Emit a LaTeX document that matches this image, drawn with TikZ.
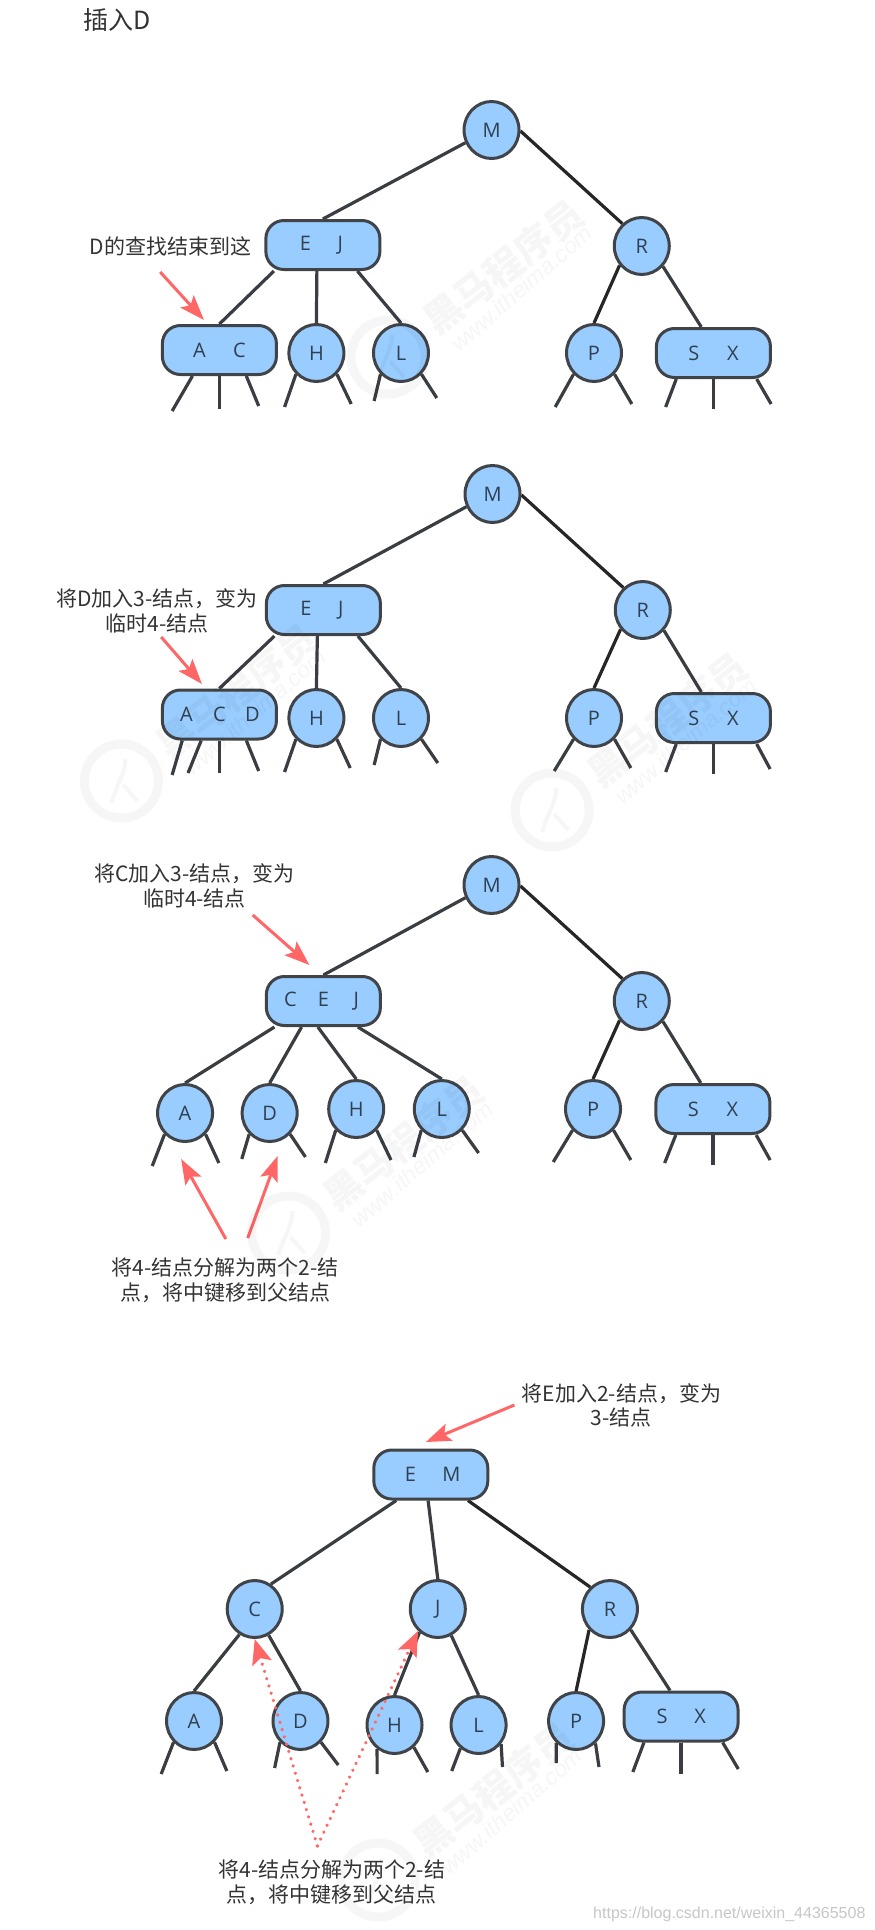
\documentclass[tikz,border=0pt]{standalone}
\usepackage{fontspec}
\setmainfont{Noto Sans CJK SC}
\newfontfamily\ltrfont{Open Sans}
\newfontfamily\urlfont{Liberation Sans}
\usetikzlibrary{shapes.geometric,arrows.meta,backgrounds}
\definecolor{nodefill}{HTML}{99CCFF}
\definecolor{nodeline}{HTML}{404448}
\definecolor{ltr}{HTML}{2F4050}
\definecolor{note}{HTML}{333333}
\definecolor{redarrow}{HTML}{FF6666}
\tikzset{
  base/.style={fill=nodefill,draw=nodeline,line width=3pt,inner sep=0pt,text=ltr,font=\fontsize{20}{24}\selectfont\ltrfont},
  round2/.style={base,ellipse,minimum width=55pt,minimum height=57pt},
  roundbox/.style={base,rectangle,rounded corners=18pt,minimum width=114pt,minimum height=49pt},
  edge/.style={draw=nodeline!90!black,line width=3.2pt},
  darkedge/.style={draw=black!85,line width=3.2pt},
  stubline/.style={draw=nodeline!90!black,line width=3.2pt},
  notetext/.style={text=note,align=center,inner sep=0pt,font=\fontsize{21}{24.5}\selectfont},
  redarr/.style={draw=redarrow,line width=3pt,-{Stealth[length=25pt,width=18pt,inset=5pt]}},
  reddot/.style={draw=redarrow,line width=3.5pt,line cap=round,dash pattern=on 0.1pt off 7.5pt,-{Stealth[length=25pt,width=20pt,inset=5pt]}},
  wmtext/.style={text=black,opacity=0.035,inner sep=0pt},
}
\newcommand\lb[2]{\makebox[#1pt]{#2}}
\newcommand\stub[4]{\coordinate (#1) at (#3,#4); \draw[stubline] (#2) -- (#1);}
\newcommand\wm[3]{%
  \draw[black,opacity=0.035,line width=9pt] (#2,#3) circle[radius=37pt];
  \draw[black,opacity=0.035,line width=4pt] (#2-10,#3+22) .. controls (#2-4,#3+2) and (#2+4,#3-8) .. (#2+4,#3-22);
  \draw[black,opacity=0.035,line width=4pt] (#2+2,#3+4) -- (#2+16,#3+20);
  \node[wmtext,rotate=38,font=\fontsize{38}{40}\selectfont\bfseries] (wma#1) at (#2+116,#3-90) {黑马程序员};
  \node[wmtext,rotate=41,font=\fontsize{23}{26}\selectfont\urlfont\itshape] (wmb#1) at (#2+134,#3-69) {www.itheima.com};
}
\begin{document}
\begin{tikzpicture}[x=0.995pt,y=-1pt]
\path[use as bounding box] (0,0) rectangle (878.4,1930);
\begin{scope}[on background layer]
\fill[white] (0,0) rectangle (878.4,1930);
\end{scope}

\node[notetext,font=\fontsize{25}{28}\selectfont] (title) at (118,20) {插入D};

% ---------- panel 1
\node[round2] (aM) at (494,130) {M};
\node[roundbox] (aEJ) at (324.5,245) {\lb{35}{E}\lb{35}{J}};
\node[round2] (aR) at (645,246) {R};
\node[roundbox] (aAC) at (220.5,350) {\lb{40}{A}\lb{40}{C}};
\node[round2] (aH) at (318,353) {H};
\node[round2] (aL) at (403,353) {L};
\node[round2] (aP) at (597,353) {P};
\node[roundbox] (aSX) at (717,353) {\lb{39}{S}\lb{39}{X}};
\begin{scope}[on background layer]
\draw[edge] (aM.206) -- (aEJ.north);
\draw[darkedge] (aM.-2) -- (aR.131);
\draw[edge] (aEJ.-152) -- (aAC.north);
\draw[edge] (aEJ.-103) -- (aH.north);
\draw[edge] (aEJ.-37) -- (aL.north);
\draw[darkedge] (aR.-139) -- (aP.north);
\draw[edge] (aR.-44) -- (aSX.115);
\stub{a1}{aAC.-136}{173}{411}
\stub{a2}{aAC.-90}{220.5}{409}
\stub{a3}{aAC.-44}{260}{406}
\stub{a4}{aH.-134}{286}{407}
\stub{a5}{aH.-46}{353}{404}
\stub{a6}{aL.-134}{376}{401}
\stub{a7}{aL.-46}{439}{398}
\stub{a8}{aP.-134}{558}{407}
\stub{a9}{aP.-46}{635}{404}
\stub{a10}{aSX.-145}{669}{407}
\stub{a11}{aSX.-90}{717}{409}
\stub{a12}{aSX.-31}{775}{404}
\end{scope}
\node[notetext] (aN) at (171.5,246) {D的查找结束到这};
\coordinate (aNa) at (161,272);
\coordinate (aNb) at (205,320);
\draw[redarr] (aNa) -- (aNb);

% ---------- panel 2
\node[round2] (bM) at (495,494) {M};
\node[roundbox] (bEJ) at (325,610) {\lb{35}{E}\lb{35}{J}};
\node[round2] (bR) at (646,610) {R};
\node[roundbox] (bACD) at (220.5,714.5) {\lb{33}{A}\lb{33}{C}\lb{33}{D}};
\node[round2] (bH) at (318,718) {H};
\node[round2] (bL) at (403,718) {L};
\node[round2] (bP) at (597,718) {P};
\node[roundbox] (bSX) at (717,718) {\lb{39}{S}\lb{39}{X}};
\begin{scope}[on background layer]
\draw[edge] (bM.206) -- (bEJ.north);
\draw[darkedge] (bM.-2) -- (bR.131);
\draw[edge] (bEJ.-152) -- (bACD.north);
\draw[edge] (bEJ.-103) -- (bH.north);
\draw[edge] (bEJ.-37) -- (bL.north);
\draw[darkedge] (bR.-139) -- (bP.north);
\draw[edge] (bR.-44) -- (bSX.115);
\stub{b1}{bACD.-145}{173}{775}
\stub{b2}{bACD.-125}{189}{773}
\stub{b3}{bACD.-90}{220.5}{773}
\stub{b4}{bACD.-44}{260}{771}
\stub{b5}{bH.-134}{286}{772}
\stub{b6}{bH.-46}{352}{768}
\stub{b7}{bL.-134}{376}{765}
\stub{b8}{bL.-46}{440}{763}
\stub{b9}{bP.-134}{557}{771}
\stub{b10}{bP.-46}{634}{768}
\stub{b11}{bSX.-145}{669}{772}
\stub{b12}{bSX.-90}{717}{774}
\stub{b13}{bSX.-31}{774}{769}
\end{scope}
\node[notetext] (bN) at (158,611) {将D加入3-结点，变为\\临时4-结点};
\coordinate (bNa) at (162,637);
\coordinate (bNb) at (203,684);
\draw[redarr] (bNa) -- (bNb);

% ---------- panel 3
\node[round2] (cM) at (494,885) {M};
\node[roundbox] (cCEJ) at (325,1001) {\lb{33}{C}\lb{33}{E}\lb{33}{J}};
\node[round2] (cR) at (645,1001) {R};
\node[round2] (cA) at (186,1113) {A};
\node[round2] (cD) at (271,1113) {D};
\node[round2] (cH) at (358,1109) {H};
\node[round2] (cL) at (444,1109) {L};
\node[round2] (cP) at (596,1109) {P};
\node[roundbox] (cSX) at (716.5,1109) {\lb{39}{S}\lb{39}{X}};
\begin{scope}[on background layer]
\draw[edge] (cM.206) -- (cCEJ.north);
\draw[darkedge] (cM.-2) -- (cR.131);
\draw[edge] (cCEJ.-152) -- (cA.north);
\draw[edge] (cCEJ.-130) -- (cD.north);
\draw[edge] (cCEJ.-102) -- (cH.north);
\draw[edge] (cCEJ.-37) -- (cL.north);
\draw[darkedge] (cR.-139) -- (cP.north);
\draw[edge] (cR.-44) -- (cSX.115);
\stub{c1}{cA.-134}{153}{1166}
\stub{c2}{cA.-46}{220}{1163}
\stub{c3}{cD.-134}{243}{1159}
\stub{c4}{cD.-46}{307}{1157}
\stub{c5}{cH.-134}{327}{1163}
\stub{c6}{cH.-46}{393}{1160}
\stub{c7}{cL.-134}{416}{1157}
\stub{c8}{cL.-46}{481}{1153}
\stub{c9}{cP.-134}{556}{1162}
\stub{c10}{cP.-46}{634}{1160}
\stub{c11}{cSX.-145}{668}{1163}
\stub{c12}{cSX.-90}{716.5}{1165}
\stub{c13}{cSX.-31}{774}{1160}
\end{scope}
\node[notetext] (cN) at (195.5,886) {将C加入3-结点，变为\\临时4-结点};
\node[notetext] (cB) at (226.5,1280.5) {将4-结点分解为两个2-结\\点，将中键移到父结点};
\coordinate (cNa) at (254,915);
\coordinate (cNb) at (311,965);
\coordinate (cBa) at (227,1239);
\coordinate (cBb) at (182,1159);
\coordinate (cBc) at (249,1238);
\coordinate (cBd) at (279,1156);
\draw[redarr] (cNa) -- (cNb);
\draw[redarr] (cBa) -- (cBb);
\draw[redarr] (cBc) -- (cBd);

% ---------- panel 4
\node[roundbox] (dEM) at (433,1474.5) {\lb{41}{E}\lb{41}{M}};
\node[round2] (dC) at (256,1609) {C};
\node[round2] (dJ) at (440,1609) {J};
\node[round2] (dR) at (613,1609) {R};
\node[round2] (dA) at (195,1721) {A};
\node[round2] (dD) at (302,1721) {D};
\node[round2] (dH) at (396.5,1725) {H};
\node[round2] (dL) at (481,1725) {L};
\node[round2] (dP) at (579,1721) {P};
\node[roundbox] (dSX) at (684.5,1716.5) {\lb{38}{S}\lb{38}{X}};
\begin{scope}[on background layer]
\draw[edge] (dEM.-143) -- (dC.57);
\draw[edge] (dEM.-96) -- (dJ.north);
\draw[darkedge] (dEM.-35) -- (dR.132);
\draw[edge] (dC.-121) -- (dA.north);
\draw[edge] (dC.-62) -- (dD.north);
\draw[edge] (dJ.-128) -- (dH.north);
\draw[edge] (dJ.-63) -- (dL.north);
\draw[darkedge] (dR.-135) -- (dP.north);
\draw[edge] (dR.-45) -- (dSX.113);
\stub{d1}{dA.-134}{162}{1774}
\stub{d2}{dA.-46}{228}{1771}
\stub{d3}{dD.-134}{276}{1768}
\stub{d4}{dD.-46}{340}{1765}
\stub{d5}{dH.-126}{379}{1774}
\stub{d6}{dH.-49}{430}{1772}
\stub{d7}{dL.-128}{454}{1771}
\stub{d8}{dL.-40}{505}{1767}
\stub{d9}{dP.-132}{559}{1763}
\stub{d10}{dP.-49}{602}{1767}
\stub{d11}{dSX.-145}{636}{1772}
\stub{d12}{dSX.-90}{684.5}{1774}
\stub{d13}{dSX.-32}{742}{1769}
\end{scope}
\node[notetext] (dN) at (624.5,1405.5) {将E加入2-结点，变为\\3-结点};
\node[notetext] (dB) at (333.5,1882.5) {将4-结点分解为两个2-结\\点，将中键移到父结点};
\coordinate (dNa) at (517,1405);
\coordinate (dNb) at (428,1442);
\coordinate (dBa) at (319,1846);
\draw[redarr] (dNa) -- (dNb);
\draw[reddot] (dBa) -- (dC.south);
\draw[reddot] (dBa) -- (dJ.-132);

% ---------- watermarks
\wm{1}{390}{357}
\wm{2}{122}{781}
\wm{3}{555}{810}
\wm{4}{290}{1233}
\wm{5}{380}{1880}
\node[text=black!22,inner sep=0pt,font=\fontsize{16}{18}\selectfont\urlfont] (url) at (733,1914) {https://blog.csdn.net/weixin\_44365508};
\end{tikzpicture}
\end{document}
